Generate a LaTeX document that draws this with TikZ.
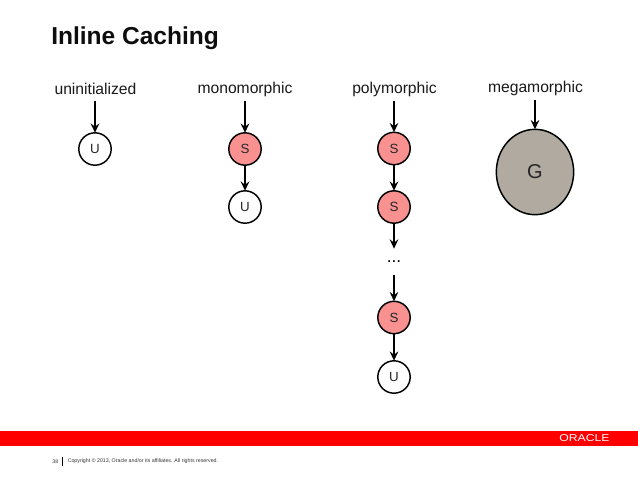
\documentclass[tikz,border=0pt]{standalone}
\usepackage{fontspec}
\setmainfont{Liberation Sans}
\usetikzlibrary{shapes.geometric,arrows.meta}

\definecolor{oraclered}{RGB}{255,0,0}
\definecolor{cachepink}{RGB}{250,145,145}
\definecolor{globalgrey}{RGB}{176,170,160}

\tikzset{
	statelabel/.style={inner sep=0pt,font=\fontsize{11.75}{14}\selectfont,text=black!90},
	cachenode/.style={circle,draw,line width=1.1pt,minimum size=24.3pt,inner sep=0pt,font=\fontsize{10}{12}\selectfont,text=black!85},
	hitnode/.style={cachenode,fill=cachepink},
	globalnode/.style={ellipse,draw,line width=1.1pt,fill=globalgrey,minimum width=58pt,minimum height=64pt,inner sep=0pt,font=\fontsize{15}{18}\selectfont,text=black!85},
	link/.style={-{Stealth[length=7pt,width=6.5pt,inset=2.5pt]},line width=1.2pt,shorten >=-0.5pt}
}

\begin{document}
\begin{tikzpicture}[x=0.75pt,y=0.75pt,yscale=-1,xscale=1]
	\useasboundingbox (0,0) rectangle (638,479);
	% title
	\node [anchor=west,inner sep=0pt,font=\fontsize{18.4}{22}\selectfont\bfseries,text=black!95] (title) at (51,38.5) {Inline Caching};
	% column heads
	\node [statelabel] (uninit) at (95.5,89) {uninitialized};
	\node [statelabel] (mono) at (245,89) {monomorphic};
	\node [statelabel] (poly) at (394.5,89) {polymorphic};
	\node [statelabel] (mega) at (535.5,88) {megamorphic};
	\coordinate (uninitin) at (95,101);
	\coordinate (monoin) at (245,101);
	\coordinate (polyin) at (394,101);
	\coordinate (megain) at (535,100);
	% uninitialized
	\node [cachenode] (u1) at (95,149) {U};
	\draw [link] (uninitin) -- (u1);
	% monomorphic
	\node [hitnode] (s1) at (245,149) {S};
	\node [cachenode] (u2) at (245,207) {U};
	\draw [link] (monoin) -- (s1);
	\draw [link] (s1) -- (u2);
	% polymorphic
	\node [hitnode] (s2) at (394,148.5) {S};
	\node [hitnode] (s3) at (394,207) {S};
	\node [inner sep=0pt,font=\fontsize{13}{15}\selectfont] (dots) at (394,262) {...};
	\node [hitnode] (s4) at (394,317.5) {S};
	\node [cachenode] (u3) at (394,377) {U};
	\coordinate (s3out) at (394,248);
	\coordinate (s4in) at (394,275);
	\draw [link] (polyin) -- (s2);
	\draw [link] (s2) -- (s3);
	\draw [link] (s3) -- (s3out);
	\draw [link] (s4in) -- (s4);
	\draw [link] (s4) -- (u3);
	% megamorphic
	\node [globalnode] (g) at (535,172) {G};
	\draw [link] (megain) -- (g);
	% footer
	\fill [oraclered] (0,431) rectangle (638,446);
	\node [inner sep=0pt,text=white,font=\fontsize{7.5}{9}\selectfont] (oracle) at (584.5,438.5) {\scalebox{1.22}[1]{ORACLE}};
	\node [anchor=east,inner sep=0pt,font=\fontsize{3.9}{4}\selectfont,text=black!80] (page) at (58.5,461.5) {38};
	\coordinate (bartop) at (62,457);
	\coordinate (barbot) at (62,466);
	\draw [line width=0.7pt] (bartop) -- (barbot);
	\node [anchor=west,inner sep=0pt,font=\fontsize{3.95}{4}\selectfont,text=black!80] (copyright) at (67.5,461.5) {Copyright © 2013, Oracle and/or its affiliates. All rights reserved.};
\end{tikzpicture}
\end{document}
